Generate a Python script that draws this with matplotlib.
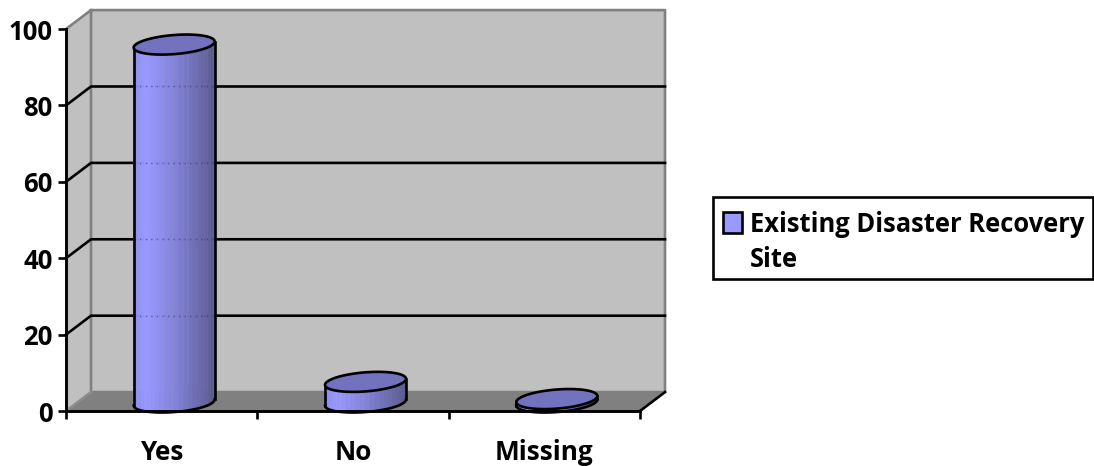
import numpy as np
import matplotlib
import matplotlib.pyplot as plt
from matplotlib.colors import LinearSegmentedColormap
from matplotlib.patches import Rectangle
from matplotlib.transforms import Affine2D

matplotlib.use('Agg')

categories = ['Yes', 'No', 'Missing']
values = [93.7, 5.4, 0.9]
y_ticks = [0, 20, 40, 60, 80, 100]
legend_label = 'Existing Disaster Recovery\nSite'

W, H = 1094, 466
DEPTH_X = 0.1307  # how far the back wall sits from the front plane, x data units
DEPTH_Y = 4.95    # same, y data units
HALF_W = 0.2117   # cylinder radius
ELL_B = 2.5       # ellipse half height
ELL_K = 0.8       # ellipse tilt, right end sits higher

WALL = '#c0c0c0'
FLOOR = '#808080'
CAP = '#7272be'
LW = 1.9

plt.rcParams['font.family'] = ['Open Sans', 'DejaVu Sans']
plt.rcParams['font.weight'] = 'bold'

body_cmap = LinearSegmentedColormap.from_list(
    'body', [(0, '#8f8ff2'), (0.14, '#9999ff'), (0.45, '#8585dc'), (1, '#5a5a8e')])

fig = plt.figure(figsize=(W / 100, H / 100), dpi=100)
ax = fig.add_axes([66 / W, (H - 411) / H, 574 / W, 382 / H])
ax.set_xlim(0, len(categories))
ax.set_ylim(0, 100)
ax.patch.set_visible(False)

x_max = len(categories)

# walls and floor of the box
ax.fill([0, DEPTH_X, DEPTH_X, 0], [0, DEPTH_Y, 100 + DEPTH_Y, 100], color=WALL, zorder=1, clip_on=False, lw=0)
ax.fill([DEPTH_X, x_max + DEPTH_X, x_max + DEPTH_X, DEPTH_X], [DEPTH_Y, DEPTH_Y, 100 + DEPTH_Y, 100 + DEPTH_Y],
        color=WALL, zorder=1, clip_on=False, lw=0)
ax.fill([0, x_max, x_max + DEPTH_X, DEPTH_X], [0, 0, DEPTH_Y, DEPTH_Y], color=FLOOR, zorder=1, clip_on=False, lw=0)

# grey edges
ax.plot([0, DEPTH_X, x_max + DEPTH_X, x_max + DEPTH_X, DEPTH_X, DEPTH_X],
        [100, 100 + DEPTH_Y, 100 + DEPTH_Y, DEPTH_Y, DEPTH_Y, 100 + DEPTH_Y],
        color='#808080', lw=LW, zorder=1.2, clip_on=False)
ax.plot([0, DEPTH_X], [0, DEPTH_Y], color='#8c8c8c', lw=LW, zorder=1.2, clip_on=False)
ax.plot([x_max, x_max + DEPTH_X], [0, DEPTH_Y], color='black', lw=LW, zorder=2.6, clip_on=False)

# gridlines run along the left wall then across the back
for t in y_ticks[1:-1]:
    ax.plot([0, DEPTH_X, x_max + DEPTH_X], [t, t + DEPTH_Y, t + DEPTH_Y],
            color='black', lw=LW, zorder=1.5, clip_on=False)

# cylinders
angles = np.linspace(np.pi, 0, 27)
for i, v in enumerate(values):
    cx = i + 0.5 + DEPTH_X / 2
    base = DEPTH_Y / 2 - 0.25
    top = base + v
    us = np.cos(angles)

    # side of the cylinder, built from narrow strips
    for j in range(len(us) - 1):
        u = np.linspace(us[j], us[j + 1], 5)
        low = base + ELL_K * u - ELL_B * np.sqrt(1 - u ** 2)
        high = top + ELL_K * u - ELL_B * np.sqrt(1 - u ** 2)
        ax.fill(np.r_[cx + HALF_W * u, cx + HALF_W * u[::-1]], np.r_[low, high[::-1]],
                color=body_cmap((us[j] + 1) / 2), lw=0.3, zorder=2, clip_on=False)

    # outline of the side
    u = np.linspace(-1, 1, 120)
    ax.plot(cx + HALF_W * u, base + ELL_K * u - ELL_B * np.sqrt(1 - u ** 2),
            color='black', lw=LW, zorder=2.2, clip_on=False)
    ax.plot([cx - HALF_W, cx - HALF_W], [base - ELL_K, top - ELL_K], color='black', lw=LW, zorder=2.2, clip_on=False)
    ax.plot([cx + HALF_W, cx + HALF_W], [base + ELL_K, top + ELL_K], color='black', lw=LW, zorder=2.2, clip_on=False)

    # top cap
    t = np.linspace(0, 2 * np.pi, 200)
    ax.fill(cx + HALF_W * np.cos(t), top + ELL_K * np.cos(t) + ELL_B * np.sin(t),
            facecolor=CAP, edgecolor='black', lw=LW, zorder=2.3, clip_on=False)

    # gridlines show faintly through the glassy side
    for g in y_ticks[1:-1]:
        if g + DEPTH_Y < top:
            ax.plot([cx - HALF_W, cx + HALF_W], [g + DEPTH_Y, g + DEPTH_Y], color='#3c3c70', lw=1.0,
                    ls=(0, (1, 3)), alpha=0.6, zorder=2.1)

# axes
for side in ['top', 'right']:
    ax.spines[side].set_visible(False)
for side in ['left', 'bottom']:
    ax.spines[side].set_linewidth(2.1)
    ax.spines[side].set_color('black')

ax.set_yticks(y_ticks)
ax.set_yticklabels([str(t) for t in y_ticks])
ax.tick_params(axis='y', length=6, width=1.9, pad=3.5, labelsize=18.5)
ax.set_xticks(range(len(categories) + 1))
ax.set_xticklabels([])
ax.tick_params(axis='x', which='major', length=6, width=1.9)
ax.set_xticks([i + 0.5 for i in range(len(categories))], minor=True)
ax.set_xticklabels(categories, minor=True, fontsize=18.8)
ax.tick_params(axis='x', which='minor', length=0, pad=20)

# legend box, placed in pixels
px = Affine2D().scale(1 / W, -1 / H).translate(0, 1) + fig.transFigure
fig.add_artist(Rectangle((713, 197), 380, 82, facecolor='white', edgecolor='black', lw=1.9, transform=px))
fig.add_artist(Rectangle((722.5, 211.5), 19, 21, facecolor='#9999ff', edgecolor='black', lw=1.9, transform=px))
line1, line2 = legend_label.split('\n')
fig.text(750, 232, line1, transform=px, fontsize=18.4, va='baseline', ha='left')
fig.text(750, 267, line2, transform=px, fontsize=18.4, va='baseline', ha='left')

fig.savefig('out.png', dpi=100)
